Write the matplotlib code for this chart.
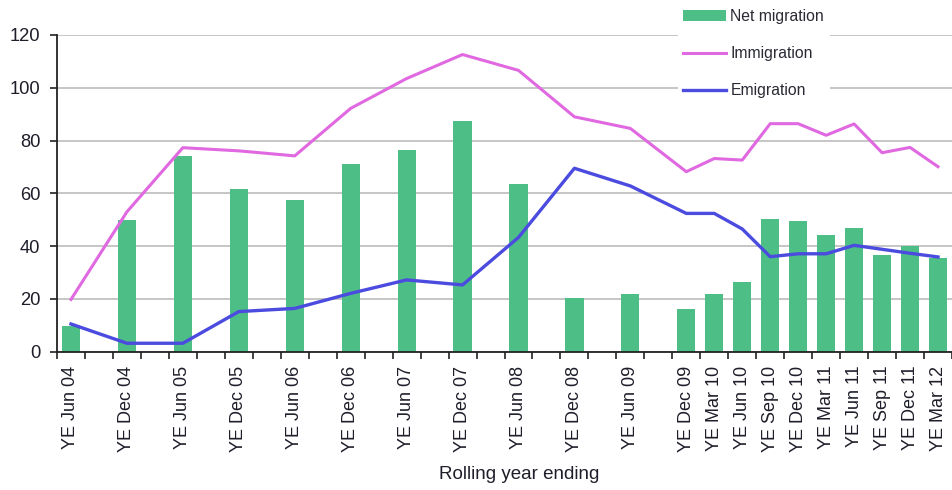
import numpy as np
import matplotlib
matplotlib.use("Agg")
import matplotlib.pyplot as plt
from matplotlib.patches import Patch
from matplotlib.lines import Line2D

GREEN, PINK, BLUE = "#4dbe86", "#e068e0", "#4b4be0"
GRID, TXT = "#c6c6c6", "#1e1e2a"
plt.rcParams.update({
    "font.family": ["Liberation Sans", "DejaVu Sans"],
    "font.size": 13.2,
})

# periods (year ending), thousands
periods = ["YE Jun 04", "YE Dec 04", "YE Jun 05", "YE Dec 05", "YE Jun 06",
           "YE Dec 06", "YE Jun 07", "YE Dec 07", "YE Jun 08", "YE Dec 08",
           "YE Jun 09", "YE Dec 09", "YE Mar 10", "YE Jun 10", "YE Sep 10",
           "YE Dec 10", "YE Mar 11", "YE Jun 11", "YE Sep 11", "YE Dec 11",
           "YE Mar 12"]
net_migration = [9.7, 49.8, 74.2, 61.6, 57.5, 71.2, 76.6, 87.4, 63.4, 20.5,
                 21.7, 16.3, 21.7, 26.4, 50.3, 49.6, 44.3, 46.7, 36.5, 40.0,
                 35.4]
immigration = [19.8, 53.0, 77.3, 76.1, 74.2, 92.2, 103.5, 112.6, 106.6, 89.0,
               84.6, 68.2, 73.2, 72.6, 86.4, 86.4, 82.0, 86.3, 75.4, 77.4,
               70.1]
emigration = [10.5, 3.2, 3.2, 15.2, 16.4, 22.1, 27.2, 25.3, 43.3, 69.5,
              62.8, 52.4, 52.4, 46.5, 36.0, 37.1, 37.1, 40.3, 38.8, 37.3,
              35.9]

MONTH_Q = {"Mar": 0, "Jun": 1, "Sep": 2, "Dec": 3}


def qpos(label):
    _, mon, yy = label.split()
    return (int(yy) - 4) * 4 + MONTH_Q[mon] - 1


xs = np.array([qpos(p) for p in periods])
nq = xs.max() + 1

W, H = 952, 490
fig = plt.figure(figsize=(W / 100, H / 100), dpi=100)
ax = fig.add_axes([57 / W, 1 - 351.7 / H, 1 - 57 / W, (351.7 - 35) / H])

ax.bar(xs, net_migration, width=0.65, color=GREEN, zorder=2)
ax.plot(xs, immigration, color=PINK, lw=2.2, zorder=3)
ax.plot(xs, emigration, color=BLUE, lw=2.4, zorder=4)

ax.set_xlim(-0.5, nq - 0.5)
ax.set_ylim(0, 120)
ax.set_yticks(np.arange(0, 121, 20))
ax.grid(axis="y", color=GRID, lw=1.4)
ax.set_axisbelow(True)
ax.spines[["top", "right"]].set_visible(False)
for s in ("left", "bottom"):
    ax.spines[s].set_color("#222222")
    ax.spines[s].set_linewidth(1.3)

ax.set_xticks(np.arange(-0.5, nq, 1.0))
ax.set_xticklabels([])
ax.set_xticks(xs, minor=True)
ax.set_xticklabels(periods, minor=True, rotation=90, color=TXT, fontsize=13)
ax.tick_params(axis="x", which="major", length=5, width=1.2, color="#222222")
ax.tick_params(axis="x", which="minor", length=0, pad=10)
ax.tick_params(axis="y", length=5, width=1.2, color="#222222", pad=7, labelcolor=TXT)

ax.set_xlabel("Rolling year ending", color=TXT, fontsize=13.5)
ax.xaxis.set_label_coords((519 - 57) / (W - 57), -(466 - 351.7) / (351.7 - 35), transform=ax.transAxes)

handles = [
    Patch(facecolor=GREEN, edgecolor="none", label="Net migration"),
    Line2D([], [], color=PINK, lw=2.2, label="Immigration"),
    Line2D([], [], color=BLUE, lw=2.4, label="Emigration"),
]
leg = fig.legend(handles=handles, loc="upper left", bbox_to_anchor=(670 / W, 1.0 + 4 / H),
                 frameon=True, facecolor="white", edgecolor="none", fancybox=False,
                 fontsize=11.3, handlelength=2.7, handletextpad=0.3,
                 labelspacing=1.4, borderpad=0.35, framealpha=1.0)
for t in leg.get_texts():
    t.set_color("#2a2a35")

fig.savefig("out.png", dpi=100)
